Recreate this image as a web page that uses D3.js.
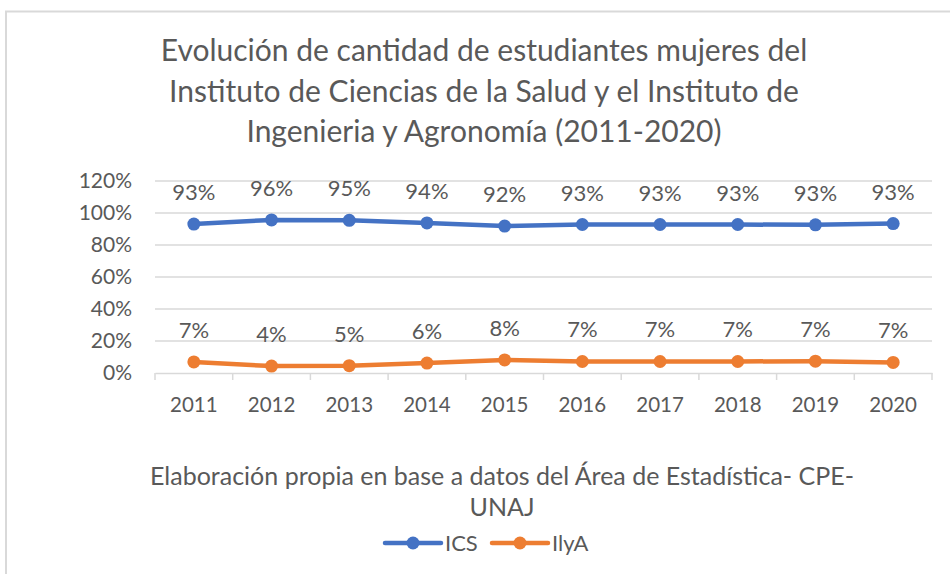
<!DOCTYPE html>
<html>
<head>
<meta charset="utf-8">
<script src="https://cdn.jsdelivr.net/npm/d3@7"></script>
<style>
body { margin:0; background:#fff; }
svg text { font-family: Lato, "Open Sans", sans-serif; fill:#595959; }
</style>
</head>
<body>
<svg id="chart" width="950" height="574"></svg>
<script>
var years = ["2011","2012","2013","2014","2015","2016","2017","2018","2019","2020"];
var ics = [0.931, 0.957, 0.954, 0.938, 0.918, 0.928, 0.928, 0.928, 0.926, 0.934];
var ilya = [0.069, 0.043, 0.046, 0.062, 0.082, 0.072, 0.072, 0.072, 0.074, 0.066];
var yTicks = [0, 0.2, 0.4, 0.6, 0.8, 1.0, 1.2];
var titleLines = ["Evolución de cantidad de estudiantes mujeres del",
                  "Instituto de Ciencias de la Salud y el Instituto de",
                  "Ingenieria y Agronomía (2011-2020)"];
var footLines = ["Elaboración propia en base a datos del Área de Estadística- CPE-", "UNAJ"];
var series = [
    {name:"ICS", values:ics, color:"#4472C4"},
    {name:"IlyA", values:ilya, color:"#ED7D31"}
];

var svg = d3.select("#chart");

svg.append("rect")
    .attr("x",6).attr("y",11.5).attr("width",960).attr("height",600)
    .style("fill","none").style("stroke","#d9d9d9").style("stroke-width","2px");

// title
titleLines.forEach( function(t,i) {
    svg.append("text")
        .attr("x",484).attr("y",61 + i*40.5)
        .attr("text-anchor","middle")
        .style("font-size","30px")
        .text(t);
});

var xScale = d3.scaleBand()
    .domain(years)
    .range([155, 932]);

var yScale = d3.scaleLinear()
    .domain([0, 1.2])
    .range([373, 181]);

// grid
svg.append("g").selectAll("line").data(yTicks.slice(1)).enter()
    .append("line")
    .attr("x1",155).attr("x2",932)
    .attr("y1", function(d) { return yScale(d); })
    .attr("y2", function(d) { return yScale(d); })
    .style("stroke","#d9d9d9").style("stroke-width","1.5px");

var yAxis = d3.axisLeft(yScale).tickValues(yTicks).tickSize(0).tickPadding(23)
    .tickFormat(d3.format(".0%"));
var gy = svg.append("g").attr("transform","translate(155,0)").call(yAxis);
gy.select(".domain").remove();
gy.selectAll("text").style("font-size","21px").style("fill","#595959");

var xAxis = d3.axisBottom(xScale).tickSize(0).tickPadding(24);
var gx = svg.append("g").attr("transform","translate(0,373)").call(xAxis);
gx.select(".domain").style("stroke","#d9d9d9").style("stroke-width","1.5px");
gx.selectAll("text").style("font-size","20.5px").style("fill","#595959");

// category boundary ticks
var bounds = years.map(function(d) { return xScale(d); }).concat([xScale.range()[1]]);
gx.selectAll(".bt").data(bounds).enter()
    .append("line")
    .attr("x1", function(d) { return d; }).attr("x2", function(d) { return d; })
    .attr("y1",0).attr("y2",7)
    .style("stroke","#d9d9d9").style("stroke-width","1.5px");

var cx = function(i) { return xScale(years[i]) + xScale.bandwidth()/2; };

var line = d3.line()
    .x(function(d,i) { return cx(i); })
    .y(function(d) { return yScale(d); });

series.forEach( function(s) {
    var g = svg.append("g");
    g.append("path")
        .attr("d", line(s.values))
        .style("fill","none").style("stroke",s.color).style("stroke-width","4.5px")
        .style("stroke-linejoin","round").style("stroke-linecap","round");
    g.selectAll("circle").data(s.values).enter()
        .append("circle")
        .attr("cx", function(d,i) { return cx(i); })
        .attr("cy", function(d) { return yScale(d); })
        .attr("r",6.5)
        .style("fill",s.color);
    g.selectAll("text").data(s.values).enter()
        .append("text")
        .attr("x", function(d,i) { return cx(i); })
        .attr("y", function(d) { return yScale(d) - 24; })
        .attr("text-anchor","middle")
        .style("font-size","22px")
        .text(function(d) { return Math.round(d*100) + "%"; });
});

// footnote
footLines.forEach( function(t,i) {
    svg.append("text")
        .attr("x",502).attr("y",485 + i*31)
        .attr("text-anchor","middle")
        .style("font-size","25px")
        .text(t);
});

// legend
var legX = [385, 492];
series.forEach( function(s,i) {
    var lg = svg.append("g").attr("transform","translate(" + legX[i] + ",543)");
    lg.append("line").attr("x1",0).attr("x2",56).attr("y1",0).attr("y2",0)
        .style("stroke",s.color).style("stroke-width","4.5px").style("stroke-linecap","round");
    lg.append("circle").attr("cx",28).attr("cy",0).attr("r",6.5).style("fill",s.color);
    lg.append("text").attr("x",60).attr("y",8).style("font-size","22px").text(s.name);
});
</script>
</body>
</html>
